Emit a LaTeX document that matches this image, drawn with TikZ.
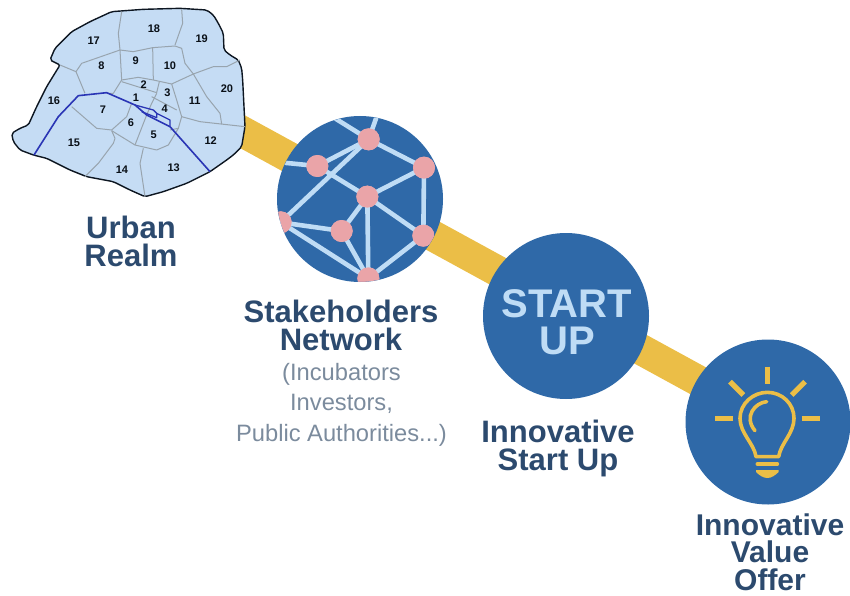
\documentclass[tikz,border=0pt]{standalone}
\usepackage{fontspec}
\setmainfont{Liberation Sans}
\definecolor{bandc}{HTML}{EBBE47}
\definecolor{discc}{HTML}{2F69A8}
\definecolor{linkc}{HTML}{BFDCF5}
\definecolor{hubc}{HTML}{EAA4A8}
\definecolor{mapc}{HTML}{C5DCF4}
\definecolor{wardc}{HTML}{98A4AE}
\definecolor{rivc}{HTML}{2A35B5}
\definecolor{navyc}{HTML}{2C4A6E}
\definecolor{greyc}{HTML}{7B8B9D}
\tikzset{
  disc/.style={circle,fill=discc,inner sep=0pt,minimum size=166pt},
  head/.style={font=\bfseries\fontsize{31}{28}\selectfont,text=navyc,align=center,inner sep=0pt},
  sub/.style={font=\fontsize{23.7}{30.5}\selectfont,text=greyc,align=center,inner sep=0pt},
  ward/.style={draw=wardc,line width=1pt,line join=round},
  wardno/.style={font=\bfseries\fontsize{11}{12}\selectfont,text=black!80!navyc,inner sep=0pt},
  link/.style={draw=linkc,line width=4.6pt},
  hub/.style={circle,fill=hubc,inner sep=0pt,minimum size=22pt},
  bulbline/.style={draw=bandc,line width=3.6pt},
  ray/.style={draw=bandc,line width=5.2pt},
}
\begin{document}
\begin{tikzpicture}[x=1pt,y=-1pt]
\useasboundingbox (0,0) rectangle (850,596);
\coordinate (bandstart) at (232,126);
\coordinate (bandend) at (770,420);
\draw[bandc,line width=31pt] (bandstart) -- (bandend);

% Map
\begin{scope}[x=0.33333pt,y=-0.33333pt]
\draw[fill=mapc,draw=black!70!navyc,line width=1.4pt,line join=round,rounded corners=2pt]
 (335,35) -- (430,28) -- (540,25) -- (620,30) -- (640,45) -- (655,70) -- (670,100) -- (672,150) -- (690,165) -- (715,180) -- (725,205) -- (728,240) -- (735,380) -- (725,440) -- (700,465) -- (680,480) -- (630,515) -- (560,550) -- (490,575) -- (435,590) -- (390,570) -- (340,545) -- (260,530) -- (210,510) -- (140,475) -- (100,465) -- (60,450) -- (40,425) -- (35,400) -- (60,385) -- (85,375) -- (110,320) -- (140,260) -- (180,195) -- (150,180) -- (165,145) -- (190,120) -- (215,95) -- (270,65) -- cycle;
\draw[ward] (365,35) -- (355,100) -- (360,150);
\draw[ward] (545,28) -- (548,70) -- (525,135);
\draw[ward] (180,195) -- (228,215) -- (245,190) -- (360,150) -- (400,155) -- (458,143) -- (525,138) -- (545,145) -- (555,190) -- (580,222) -- (640,200) -- (680,200) -- (720,180);
\draw[ward] (515,252) -- (580,222) -- (620,290) -- (660,340) -- (665,372);
\draw[ward] (545,350) -- (600,365) -- (735,380);
\draw[ward] (228,215) -- (255,280);
\draw[ward] (360,150) -- (365,240);
\draw[ward] (458,143) -- (460,240);
\draw[ward] (365,240) -- (415,232) -- (460,240) -- (515,252) -- (530,300) -- (545,350) -- (535,385) -- (510,390);
\draw[ward] (365,240) -- (340,280) -- (325,280);
\draw[ward] (365,245) -- (470,278) -- (478,245);
\draw[ward] (470,280) -- (455,310) -- (440,345) -- (405,435);
\draw[ward] (455,290) -- (530,330);
\draw[ward] (395,310) -- (380,350) -- (335,390) -- (290,385) -- (215,320);
\draw[ward] (335,392) -- (405,435) -- (470,450) -- (505,435) -- (535,385);
\draw[ward] (430,445) -- (420,490) -- (435,590);
\draw[ward] (335,392) -- (345,415) -- (340,430) -- (295,490) -- (255,530);
\draw[rivc,line width=1.6pt,line join=round] (102,465) -- (175,350) -- (235,287) -- (320,278) -- (405,315) -- (440,345) -- (510,380) -- (630,515);
\draw[rivc,line width=1.3pt,line join=round] (405,315) -- (460,330) -- (470,340) -- (510,360) -- (510,378) (425,335) -- (470,353) -- (470,340);
\foreach \n/\p/\q in {17/281/122,18/462/87,19/605/117,9/407/181,10/510/197,8/304/197,20/681/266,2/431/254,3/502/277,1/408/293,4/494/327,11/584/302,16/162/303,7/309/329,6/393/368,5/461/403,12/632/422,15/222/429,13/521/503,14/366/508}
  \node[wardno] (w\n) at (\p,\q) {\n};
\end{scope}

% Network disc
\node[disc] (network) at (360,199) {};
\begin{scope}
\clip (360,199) circle (82.7);
\begin{scope}[shift={(260pt,-100pt)},x=0.33333pt,y=-0.33333pt]
\coordinate (fa) at (225,55);
\coordinate (fb) at (350,50);
\coordinate (fc) at (60,187);
\node[hub] (A) at (326,118) {};
\node[hub] (B) at (172,198) {};
\node[hub] (C) at (492,203) {};
\node[hub] (D) at (322,290) {};
\node[hub] (E) at (62,367) {};
\node[hub] (F) at (245,393) {};
\node[hub] (G) at (490,407) {};
\node[hub] (H) at (325,535) {};
\draw[link] (A.center) -- (fa);
\draw[link] (A.center) -- (fb);
\draw[link] (A.center) -- (B.center);
\draw[link] (A.center) -- (C.center);
\draw[link] (A.center) -- (E.center);
\draw[link] (B.center) -- (fc);
\draw[link] (B.center) -- (D.center);
\draw[link] (D.center) -- (C.center);
\draw[link] (D.center) -- (F.center);
\draw[link] (D.center) -- (H.center);
\draw[link] (D.center) -- (G.center);
\draw[link] (C.center) -- (G.center);
\draw[link] (E.center) -- (F.center);
\draw[link] (E.center) -- (H.center);
\draw[link] (F.center) -- (H.center);
\draw[link] (G.center) -- (H.center);
\foreach \h/\p/\q in {A/326/118,B/172/198,C/492/203,D/322/290,E/62/367,F/245/393,G/490/407,H/325/535}
  \node[hub] (\h2) at (\p,\q) {};
\end{scope}
\end{scope}

% Start up disc
\node[disc] (startup) at (566,316) {};
\node[font=\bfseries\fontsize{40}{37}\selectfont,text=linkc,align=center,inner sep=0pt] (startuptext) at (567,322) {START\\UP};

% Bulb disc
\node[disc,minimum size=165pt] (offer) at (768,422) {};
\begin{scope}[shift={(680pt,-350pt)},x=0.33333pt,y=-0.33333pt]
\draw[ray] (262,50) -- (262,102);
\draw[ray] (150,95) -- (190,135);
\draw[ray] (375,95) -- (335,135);
\draw[ray] (105,205) -- (160,205);
\draw[ray] (365,205) -- (420,205);
\draw[bulbline,line join=round] (228,320) .. controls (222,280) and (180,250) .. (180,205) .. controls (180,160) and (220,127) .. (262,127) .. controls (305,127) and (342,160) .. (342,205) .. controls (342,250) and (302,280) .. (296,320) -- cycle;
\draw[bulbline,line cap=round] (260,155) .. controls (225,158) and (190,200) .. (225,242);
\draw[bulbline,line cap=round] (232,342) -- (292,342);
\fill[bandc] (228,360) -- (296,360) -- (296,366) .. controls (285,376) and (275,384) .. (262,384) .. controls (250,384) and (238,376) .. (228,366) -- cycle;
\end{scope}

% Labels
\node[head] (urban) at (131,241) {Urban\\Realm};
\node[head] (stake) at (341,325) {Stakeholders\\Network};
\node[sub] (stakesub) at (341.5,404.5) {(Incubators\\Investors,\\Public Authorities...)};
\node[head] (startlbl) at (558,448) {Innovative\\Start Up};
\node[head,font=\bfseries\fontsize{30}{27.5}\selectfont] (valuelbl) at (770,552) {Innovative\\Value\\Offer};
\end{tikzpicture}
\end{document}
